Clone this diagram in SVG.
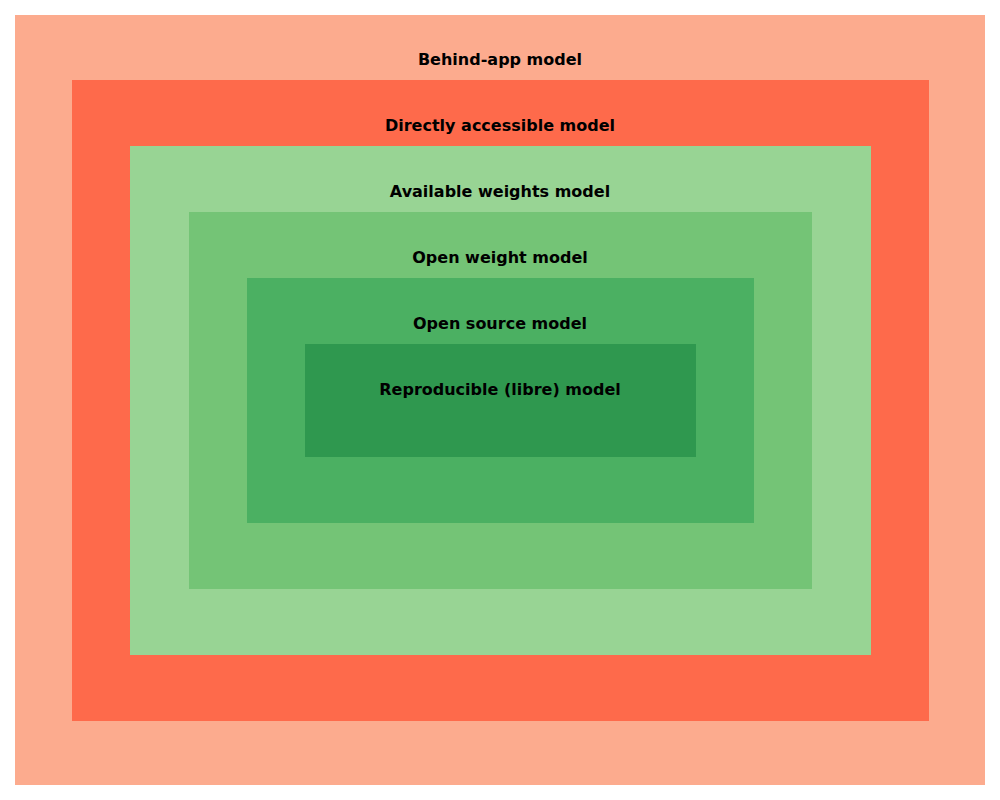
<svg xmlns="http://www.w3.org/2000/svg" width="1000" height="800" viewBox="0 0 1000 800">
<style>
text{font-family:"DejaVu Sans",sans-serif;font-weight:bold;font-size:16px;text-anchor:middle;fill:#000}
</style>
<rect width="1000" height="800" fill="#fff"/>
<g id="behind-app"><rect x="15" y="15" width="970" height="770" fill="#fcab8e"/><text x="500" y="65">Behind-app model</text></g>
<g id="directly-accessible"><rect x="72" y="80" width="857" height="641" fill="#fe6a4b"/><text x="500" y="131">Directly accessible model</text></g>
<g id="available-weights"><rect x="130" y="146" width="741" height="509" fill="#98d494"/><text x="500" y="197">Available weights model</text></g>
<g id="open-weight"><rect x="189" y="212" width="623" height="377" fill="#74c476"/><text x="500" y="263">Open weight model</text></g>
<g id="open-source"><rect x="247" y="278" width="507" height="245" fill="#4bb062"/><text x="500" y="329">Open source model</text></g>
<g id="reproducible"><rect x="305" y="344" width="391" height="113" fill="#2f984f"/><text x="500" y="395">Reproducible (libre) model</text></g>
<g id="connectors"/>
</svg>
